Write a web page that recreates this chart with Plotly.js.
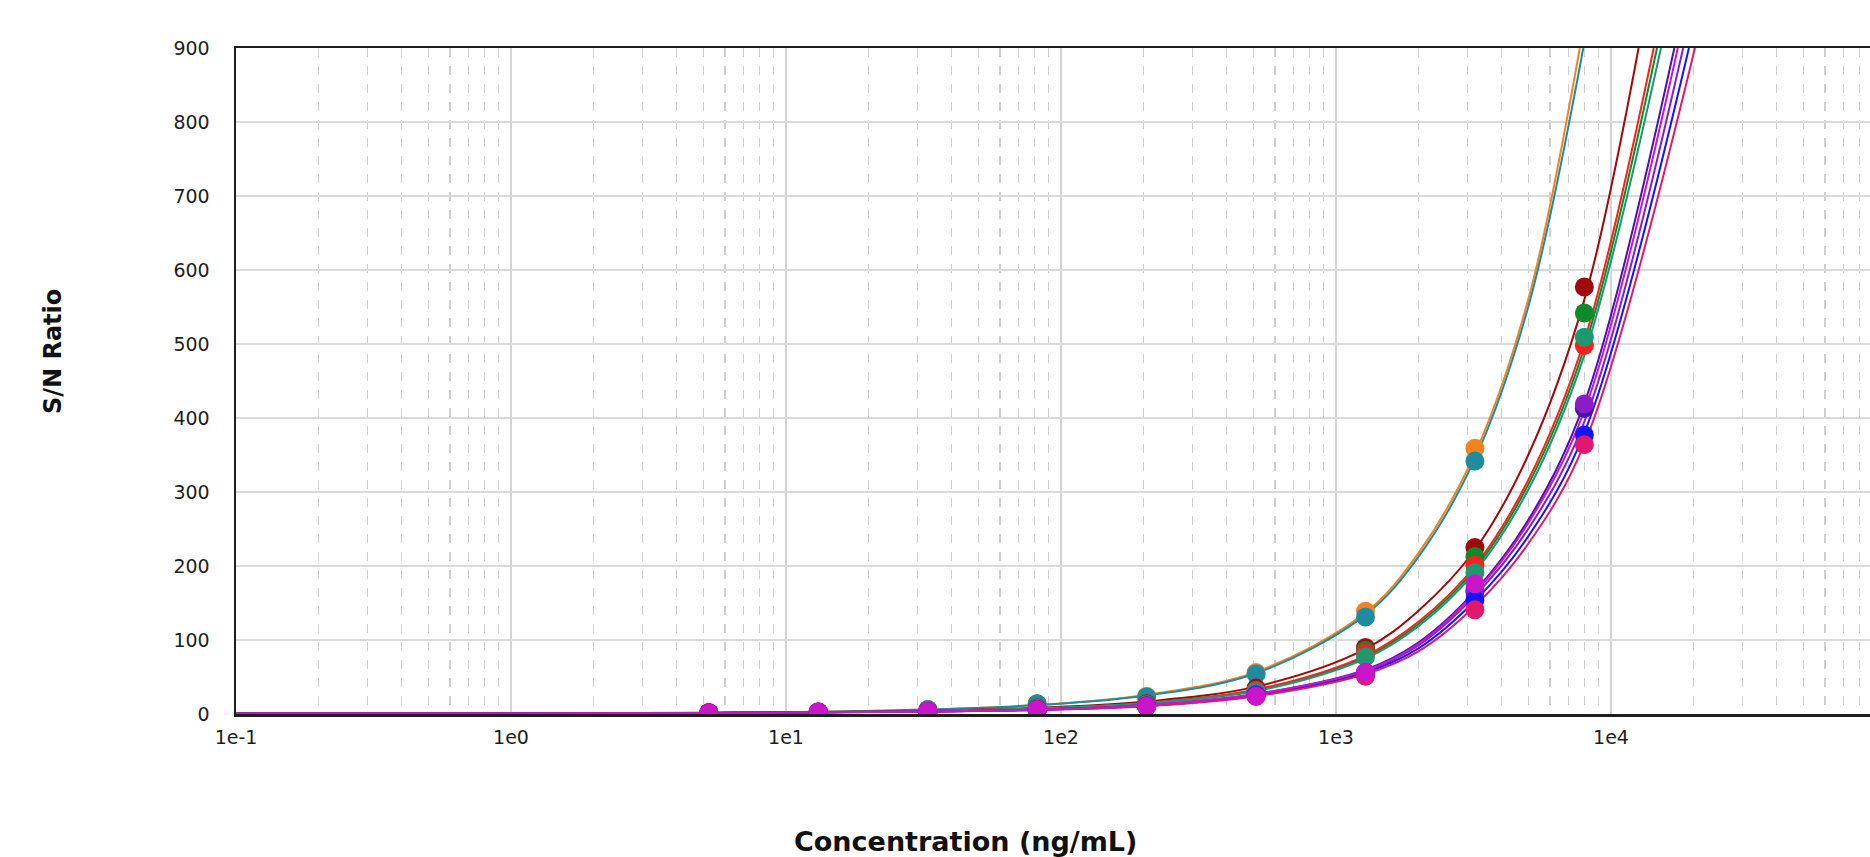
<!DOCTYPE html>
<html>
<head>
<meta charset="utf-8">
<script src="https://cdn.plot.ly/plotly-3.0.1.min.js"></script>
<style>
  html, body { margin: 0; padding: 0; background: #ffffff; overflow: hidden; }
  #chart { width: 1890px; height: 857px; }
</style>
</head>
<body>
<div id="chart"></div>
<script>
// ---------- Data ----------
const seriesNames  = ['Orange', 'Teal', 'Dark red', 'Green', 'Red', 'Sea green', 'Indigo', 'Purple', 'Blue', 'Crimson', 'Magenta'];
const seriesColors = ['#f5821f', '#1e8c9e', '#a00a0a', '#0f8a2a', '#ff1f1f', '#1c9a6e', '#4b12a8', '#8a1cc8', '#1414ff', '#e0186e', '#cc14cc'];

// Measured points: concentration (ng/mL) and S/N ratio
const conc = [5.24, 13.1, 32.8, 81.9, 204.8, 512, 1280, 3200, 8000];
const orangePts   = [2, 3, 6, 14, 24, 56, 139, 359, null];
const tealPts     = [2, 3, 6, 14, 23, 54, 131, 342, null];
const darkredPts  = [1.5, 2.5, 4, 8, 14, 35, 90, 225, 577];
const greenPts    = [1.5, 2.5, 4, 8, 13, 32, 86, 213, 542];
const redPts      = [1.5, 2.5, 4, 7, 13, 32, 82, 201, 498];
const seagreenPts = [1.5, 2.5, 4, 7, 12, 30, 77, 191, 509];
const indigoPts   = [1.5, 2.5, 3.5, 6, 11, 26, 55, 165, 413];
const purplePts   = [1.5, 2.5, 3.5, 6, 11, 26, 56, 168, 419];
const bluePts     = [1.5, 2.5, 3.5, 6, 10, 25, 53, 154, 377];
const crimsonPts  = [1.5, 2.5, 3.5, 6, 10, 24, 51, 141, 364];
const magentaPts  = [1.5, 2.5, 3.5, 5.5, 10, 24, 56, 176, null];

// Fitted curves read at these concentrations (null = above the 900 ceiling)
const curveConc = [0.1, 1, 5.24, 13.1, 32.8, 81.9, 204.8, 512, 1280, 2000, 3200, 5000, 8000];
const orangeCurve   = [0.5, 0.8, 1.8, 3, 6, 12, 26, 57, 137, 218, 352, 560, null];
const tealCurve     = [0.5, 0.8, 1.8, 3, 6, 12, 25, 55, 134, 213, 345, 550, null];
const darkredCurve  = [0.5, 0.7, 1.5, 2.5, 4.5, 8.5, 17, 37, 88, 140, 222, 350, 560];
const greenCurve    = [0.5, 0.7, 1.5, 2.5, 4, 7.5, 15, 32, 77, 122, 196, 310, 495];
const redCurve      = [0.5, 0.7, 1.5, 2.5, 4, 7.5, 15, 33, 79, 125, 200, 316, 505];
const seagreenCurve = [0.5, 0.7, 1.5, 2.5, 4, 7.5, 15, 31, 75, 119, 192, 303, 485];
const indigoCurve   = [0.5, 0.7, 1.4, 2.2, 3.5, 6, 12, 27, 60, 97, 166, 262, 420];
const purpleCurve   = [0.5, 0.7, 1.4, 2.2, 3.5, 5.8, 11.5, 26, 58, 93, 160, 250, 395];
const blueCurve     = [0.5, 0.7, 1.4, 2.2, 3.5, 5.5, 11, 25, 56, 89, 153, 240, 380];
const crimsonCurve  = [0.5, 0.7, 1.4, 2.2, 3.5, 5.3, 10.5, 24, 54, 85, 146, 230, 365];
const magentaCurve  = [0.5, 0.7, 1.4, 2.2, 3.5, 6, 12, 27, 59, 95, 164, 258, 410];
// Concentration at which each fitted curve leaves the top of the plot (S/N = 900)
const topCrossConc = [7700, 7930, 12600, 14700, 14300, 15200, 17000, 18300, 19200, 20200, 17500];
const yCeiling = 900;

// Axis ticks
const xTickVals = [0.1, 1, 10, 100, 1000, 10000, 100000];
const xTickText = ['1e-1', '1e0', '1e1', '1e2', '1e3', '1e4', '1e5'];
const yTickVals = [0, 100, 200, 300, 400, 500, 600, 700, 800, 900];

// ---------- Build traces ----------
const allPts = [orangePts, tealPts, darkredPts, greenPts, redPts, seagreenPts, indigoPts, purplePts, bluePts, crimsonPts, magentaPts];
const allCurves = [orangeCurve, tealCurve, darkredCurve, greenCurve, redCurve, seagreenCurve, indigoCurve, purpleCurve, blueCurve, crimsonCurve, magentaCurve];

const traces = [];
allCurves.forEach((cv, i) => {
  const xs = [], ys = [];
  cv.forEach((v, j) => { if (v !== null) { xs.push(curveConc[j]); ys.push(v); } });
  xs.push(topCrossConc[i]); ys.push(yCeiling);
  traces.push({
    type: 'scatter', mode: 'lines', x: xs, y: ys,
    name: seriesNames[i] + ' fit',
    line: { color: seriesColors[i], width: 2, shape: 'spline', smoothing: 1 },
    hoverinfo: 'skip', showlegend: false
  });
});
allPts.forEach((pts, i) => {
  traces.push({
    type: 'scatter', mode: 'markers', x: conc, y: pts,
    name: seriesNames[i],
    marker: { color: seriesColors[i], size: 19, line: { width: 0 } },
    showlegend: false, cliponaxis: true
  });
});

const tickFont = { family: 'DejaVu Sans, Arial, sans-serif', size: 19, color: '#1e1e1e' };
const xTitleFont = { family: 'DejaVu Sans, Arial, sans-serif', size: 27, color: '#111111', weight: 'bold' };
const yTitleFont = { family: 'DejaVu Sans, Arial, sans-serif', size: 24, color: '#111111', weight: 'bold' };

const layout = {
  width: 1890, height: 857,
  margin: { l: 236, r: 4, t: 48, b: 143 },
  paper_bgcolor: '#ffffff', plot_bgcolor: '#ffffff',
  showlegend: false,
  xaxis: {
    type: 'log', range: [-1, 5],
    tickmode: 'array', tickvals: xTickVals, ticktext: xTickText,
    ticks: '', tickfont: tickFont, ticklabelstandoff: 5,
    showgrid: true, gridcolor: '#d4d4d4', gridwidth: 1.5,
    minor: { dtick: 'D1', showgrid: true, gridcolor: '#cfcfcf', gridwidth: 1.3, griddash: 'dash', ticks: '' },
    showline: true, linecolor: '#1e1e1e', linewidth: 2.5, mirror: true,
    zeroline: false, automargin: false
  },
  yaxis: {
    range: [0, 900], tickmode: 'array', tickvals: yTickVals,
    ticks: '', tickfont: tickFont, ticklabelstandoff: 20,
    showgrid: true, gridcolor: '#dadada', gridwidth: 2,
    showline: true, linecolor: '#1e1e1e', linewidth: 2.5, mirror: true,
    zeroline: false, automargin: false
  },
  annotations: [
    { text: 'Concentration (ng/mL)', xref: 'paper', yref: 'paper', x: 0.4424, y: -0.1907,
      xanchor: 'center', yanchor: 'middle', showarrow: false, font: xTitleFont },
    { text: 'S/N Ratio', xref: 'paper', yref: 'paper', x: -0.1109, y: 0.5435, textangle: -90,
      xanchor: 'center', yanchor: 'middle', showarrow: false, font: yTitleFont }
  ]
};

Plotly.newPlot('chart', traces, layout, { displayModeBar: false, staticPlot: true });
</script>
</body>
</html>
